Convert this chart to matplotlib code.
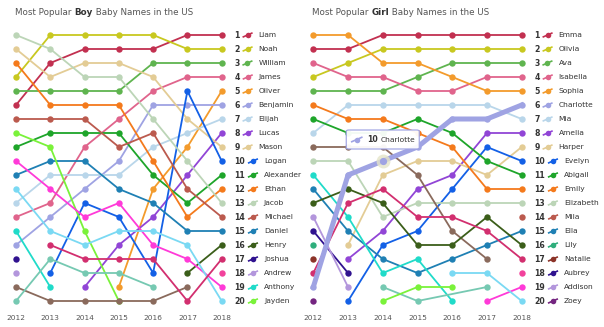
import numpy as np
import matplotlib.pyplot as plt
from matplotlib.patches import FancyBboxPatch

years = [2012, 2013, 2014, 2015, 2016, 2017, 2018]
N = None

# boys: first 20 are listed on the right, the rest only appear as lines
boy_names = ['Liam', 'Noah', 'William', 'James', 'Oliver', 'Benjamin', 'Elijah',
             'Lucas', 'Mason', 'Logan', 'Alexander', 'Ethan', 'Jacob', 'Michael',
             'Daniel', 'Henry', 'Joshua', 'Andrew', 'Anthony', 'Jayden',
             'Aiden', 'Matthew', 'David', 'Joseph', 'Jackson', 'Sebastian']
boy_ranks = [
    [6, 3, 2, 2, 2, 1, 1],
    [4, 1, 1, 1, 1, 2, 2],
    [5, 5, 5, 5, 3, 3, 3],
    [14, 13, 9, 7, 5, 4, 4],
    [N, N, N, 19, 12, 9, 5],
    [16, 14, 12, 10, 6, 6, 6],
    [13, 11, 11, 11, 9, 8, 7],
    [N, N, 19, 16, 14, 11, 8],
    [2, 4, 3, 3, 4, 7, 9],
    [N, 18, 13, 14, 18, 5, 10],
    [9, 8, 8, 8, 11, 13, 11],
    [3, 6, 6, 6, 10, 14, 12],
    [1, 2, 4, 4, 7, 10, 13],
    [7, 7, 7, 9, 8, 12, 14],
    [11, 10, 10, 12, 13, 15, 15],
    [N, N, N, N, N, 18, 16],
    [17, N, N, N, N, N, N],
    [18, N, N, N, N, N, N],
    [15, 19, N, N, N, N, N],
    [8, 9, 15, 20, N, N, N],
    [10, 12, 14, 13, 16, 17, 19],
    [12, 15, 16, 15, 15, 16, 20],
    [19, 20, 20, 20, 20, 19, N],
    [20, 17, 18, 18, 19, N, N],
    [N, 16, 17, 17, 17, 20, 17],
    [N, N, N, N, N, N, 18],
]
boy_colors = ['#c23050', '#c8c820', '#5fb44f', '#e0648c', '#f39b2c', '#9fa3e3',
              '#b9d6ea', '#9145d6', '#e3cc95', '#1360e6', '#1ea52a', '#f47a1c',
              '#bcd5b7', '#bb5a4e', '#1f80b4', '#3b5e1a', '#30128f', '#b396dc',
              '#20dbc9', '#7af23a',
              '#ff3ad8', '#7ad9f3', '#8a6a5c', '#76c9b2', '#d22f6f', '#f2429c']

girl_names = ['Emma', 'Olivia', 'Ava', 'Isabella', 'Sophia', 'Charlotte', 'Mia',
              'Amelia', 'Harper', 'Evelyn', 'Abigail', 'Emily', 'Elizabeth', 'Mila',
              'Ella', 'Lily', 'Natalie', 'Aubrey', 'Addison', 'Zoey',
              'Madison', 'Chloe', 'Avery', 'Sofia', 'Camila', 'Aria', 'Scarlett',
              'Victoria', 'Grace']
girl_ranks = [
    [2, 2, 1, 1, 1, 1, 1],
    [4, 3, 2, 2, 2, 2, 2],
    [5, 5, 5, 4, 3, 3, 3],
    [3, 4, 4, 5, 5, 4, 4],
    [1, 1, 3, 3, 4, 5, 5],
    [19, 11, 10, 9, 7, 7, 6],
    [8, 6, 6, 6, 6, 6, 7],
    [N, 17, 15, 12, 11, 8, 8],
    [N, 16, 11, 10, 10, 11, 9],
    [N, 20, 16, 15, 12, 9, 10],
    [7, 8, 8, 7, 8, 10, 11],
    [6, 7, 7, 8, 9, 12, 12],
    [10, 10, 14, 13, 13, 13, 13],
    [N, N, N, N, N, N, 14],
    [12, 15, 17, 18, 17, 16, 15],
    [16, N, N, N, N, N, N],
    [17, N, N, N, N, N, N],
    [15, 18, N, N, N, N, N],
    [14, 19, N, N, N, N, N],
    [20, N, N, N, N, N, N],
    [9, 9, 9, 11, 15, 17, N],
    [11, 14, 18, 17, 20, N, N],
    [13, 12, 13, 16, 16, 14, 16],
    [18, 13, 12, 14, 14, 15, 17],
    [N, N, N, N, N, N, 18],
    [N, N, N, N, N, 20, 19],
    [N, N, N, N, 18, 18, 20],
    [N, N, 19, 20, N, 19, N],
    [N, N, 20, 19, 19, N, N],
]
girl_colors = ['#c23050', '#c8c820', '#5fb44f', '#e0648c', '#f39b2c', '#9fa3e3',
               '#b9d6ea', '#9145d6', '#e3cc95', '#1360e6', '#1ea52a', '#f47a1c',
               '#bcd5b7', '#bb5a4e', '#1f80b4', '#2fae7c', '#8c3328', '#30128f',
               '#b396dc', '#742580',
               '#8a6a5c', '#20dbc9', '#3b5e1a', '#d22f6f', '#f2429c', '#ff3ad8',
               '#7ad9f3', '#76c9b2', '#7af23a']

hover_name = 'Charlotte'
hover_year = 2014

W, H = 604, 327
fig = plt.figure(figsize=(W / 100, H / 100), dpi=100)
fig.patch.set_facecolor('white')
renderer = fig.canvas.get_renderer()

TXT = '#333333'


def px_to_data(ax, x, y, dx, dy):
    # shift a data point by screen pixels (dy positive = down)
    X, Y = ax.transData.transform((x, y))
    return ax.transData.inverted().transform((X + dx, Y - dy))


def legend_icon(ax, x, y, dx, color, lw=1.2):
    a = px_to_data(ax, x, y, dx, 2.2)
    b = px_to_data(ax, x, y, dx + 10, -2.2)
    m = px_to_data(ax, x, y, dx + 5, 0)
    ax.plot([a[0], b[0]], [a[1], b[1]], color=color, lw=lw, clip_on=False,
            solid_capstyle='butt')
    ax.plot([m[0]], [m[1]], 'o', color=color, ms=4.0, mew=0, clip_on=False)


def panel(left_px, right_px, title_bold, names, ranks, colors, hover=None):
    ax = fig.add_axes([left_px / W, (H - 301) / H,
                       (right_px - left_px) / W, (301 - 35) / H])
    ax.set_xlim(years[0], years[-1])
    ax.set_ylim(20, 1)
    for s in ax.spines.values():
        s.set_visible(False)
    ax.set_yticks([])
    ax.set_xticks(years)
    ax.set_xticklabels([str(y) for y in years], fontsize=5.3, color='#555555')
    ax.tick_params(axis='x', length=0, pad=10)

    order = list(range(len(names)))
    if hover in names:
        hi = names.index(hover)
        order.remove(hi)
        order.append(hi)
    for i in order:
        pts = [(yr, r) for yr, r in zip(years, ranks[i]) if r is not None]
        xs = [p[0] for p in pts]
        ys = [p[1] for p in pts]
        lw = 3.6 if names[i] == hover else 1.3
        ax.plot(xs, ys, color=colors[i], lw=lw, marker='o', ms=4.6, mew=0,
                clip_on=False, zorder=3 if names[i] == hover else 2)

    # rank labels with series names
    for i in range(20):
        r = i + 1
        t = ax.annotate(str(r), xy=(years[-1], r), xytext=(12.5, 0),
                        textcoords='offset pixels', ha='left', va='center',
                        fontsize=5.6, fontweight='bold', color=TXT,
                        annotation_clip=False)
        w = t.get_window_extent(renderer).width
        legend_icon(ax, years[-1], r, 12.5 + w + 3, colors[i])
        ax.annotate(names[i], xy=(years[-1], r), xytext=(12.5 + w + 19, 0),
                    textcoords='offset pixels', ha='left', va='center',
                    fontsize=5.4, color=TXT, annotation_clip=False)

    # title
    t1 = fig.text((left_px - 1) / W, 1 - 12.5 / H, 'Most Popular ', fontsize=6.3,
                  color='#555555', va='center', ha='left')
    x = t1.get_window_extent(renderer).x1
    t2 = fig.text(x / W, 1 - 12.5 / H, title_bold, fontsize=6.3,
                  fontweight='bold', color='#333333', va='center', ha='left')
    x = t2.get_window_extent(renderer).x1
    fig.text(x / W, 1 - 12.5 / H, ' Baby Names in the US', fontsize=6.3,
             color='#555555', va='center', ha='left')
    return ax


panel(16, 221.7, 'Boy', boy_names, boy_ranks, boy_colors)
axg = panel(313.3, 521.7, 'Girl', girl_names, girl_ranks, girl_colors,
            hover=hover_name)

# hovered point with its tooltip
hi = girl_names.index(hover_name)
hr = girl_ranks[hi][years.index(hover_year)]
hc = girl_colors[hi]
axg.plot([hover_year], [hr], 'o', color='#e4e4c8', ms=10, mew=0, alpha=0.8,
         clip_on=False, zorder=4)
axg.plot([hover_year], [hr], 'o', color=hc, ms=5.2, mew=0, clip_on=False,
         zorder=5)

bx0, by0 = px_to_data(axg, hover_year, hr, -36.5, -12)
bx1, by1 = px_to_data(axg, hover_year, hr, 36.5, -31)
box = FancyBboxPatch((bx0, by1), bx1 - bx0, by0 - by1,
                     boxstyle='round,pad=0,rounding_size=0.08',
                     mutation_aspect=14 / 34.3 * 2.5,
                     facecolor='white', edgecolor=hc, lw=0.9,
                     clip_on=False, zorder=6, alpha=0.95)
axg.add_patch(box)
cy = -21.5
tip_icon_x = -31
a = px_to_data(axg, hover_year, hr, tip_icon_x, cy + 2.2)
b = px_to_data(axg, hover_year, hr, tip_icon_x + 10, cy - 2.2)
m = px_to_data(axg, hover_year, hr, tip_icon_x + 5, cy)
axg.plot([a[0], b[0]], [a[1], b[1]], color=hc, lw=1.2, clip_on=False, zorder=7)
axg.plot([m[0]], [m[1]], 'o', color=hc, ms=4.0, mew=0, clip_on=False, zorder=7)
t = axg.annotate(str(hr), xy=(hover_year, hr), xytext=(-16, -cy),
                 textcoords='offset pixels', ha='left', va='center',
                 fontsize=5.6, fontweight='bold', color=TXT, zorder=7,
                 annotation_clip=False)
w = t.get_window_extent(renderer).width
axg.annotate(hover_name, xy=(hover_year, hr), xytext=(-16 + w + 3, -cy),
             textcoords='offset pixels', ha='left', va='center',
             fontsize=5.4, color=TXT, zorder=7, annotation_clip=False)

fig.savefig('out.png', dpi=100, facecolor='white')
